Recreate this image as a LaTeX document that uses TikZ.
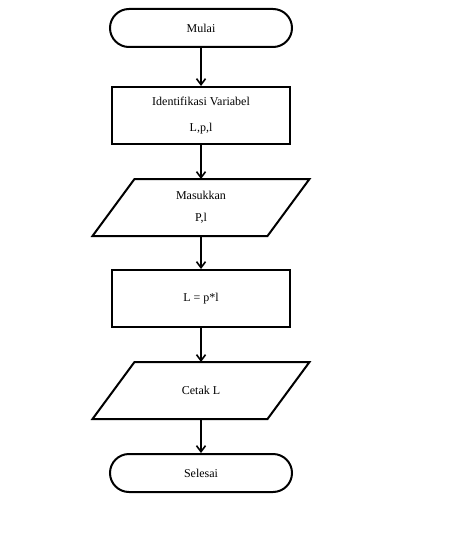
\documentclass[tikz,border=0pt]{standalone}
\usepackage{fontspec}
\setmainfont{Liberation Serif}
\usetikzlibrary{arrows.meta,positioning}

\begin{document}
\begin{tikzpicture}[x=1pt,y=-1pt,line width=2pt,
	font=\fontsize{12}{13}\selectfont,
	terminal/.style={draw,rectangle,rounded corners=19pt,minimum width=182pt,minimum height=38pt},
	proses/.style={draw,rectangle,minimum width=178pt,minimum height=57pt,align=center},
	data/.style={rectangle,minimum width=215pt,minimum height=55pt,align=center},
	panah/.style={-{Straight Barb[length=6pt,width=9pt,line width=1.6pt]}}]

	\useasboundingbox (0,0) rectangle (451,556);

	\node[terminal] (mulai) at (201,28) {Mulai};
	\node[proses] (identifikasi) at (201,115.5) {Identifikasi Variabel\\[13pt]L,p,l};
	\node[data] (masukkan) at (201,207.5) {Masukkan\\[9pt]P,l};
	\node[proses] (hitung) at (201,298.5) {L = p*l};
	\node[data] (cetak) at (201,390.5) {Cetak L};
	\node[terminal] (selesai) at (201,473) {Selesai};

	% jajaran genjang untuk input / output
	\foreach \n in {masukkan, cetak}{
		\draw ([xshift=42pt]\n.north west) -- (\n.north east)
			-- ([xshift=-42pt]\n.south east) -- (\n.south west) -- cycle;
	}

	\draw[panah] (mulai) -- (identifikasi);
	\draw[panah] (identifikasi) -- (masukkan);
	\draw[panah] (masukkan) -- (hitung);
	\draw[panah] (hitung) -- (cetak);
	\draw[panah] (cetak) -- (selesai);

\end{tikzpicture}
\end{document}
